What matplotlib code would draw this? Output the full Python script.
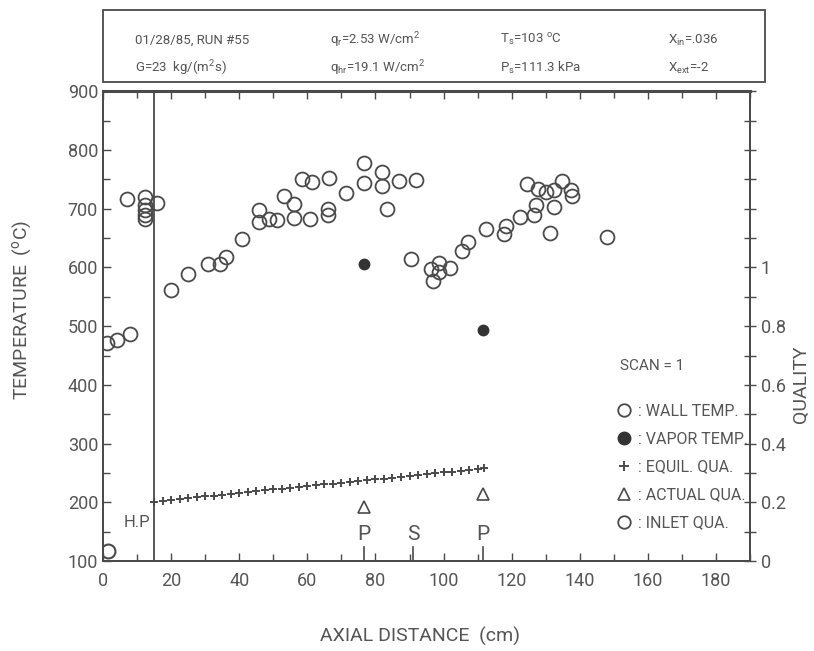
import numpy as np
import matplotlib
matplotlib.use("Agg")
import matplotlib.pyplot as plt
from matplotlib.lines import Line2D
from matplotlib.patches import Rectangle

plt.rcParams['font.family'] = ['Roboto', 'DejaVu Sans']
plt.rcParams['mathtext.fontset'] = 'custom'
plt.rcParams['mathtext.rm'] = 'Roboto'
plt.rcParams['mathtext.it'] = 'Roboto'

# wall temperatures (cm, degC)
wall_x = [1.1, 4.0, 7.9, 7.0, 12.4, 12.4, 12.4, 12.4, 12.4, 15.8, 20.0, 25.1, 30.7, 34.4,
          36.0, 40.8, 45.7, 45.7, 48.6, 51.1, 53.2, 56.0, 56.0, 58.4, 61.4, 60.7, 66.3,
          66.0, 66.0, 71.5, 76.6, 76.6, 81.8, 81.8, 83.4, 86.9, 91.8, 90.5, 96.2, 98.6,
          98.6, 96.9, 101.8, 105.5, 107.2, 112.4, 117.7, 118.2, 122.4, 124.6, 126.6,
          127.1, 127.6, 130.0, 132.4, 134.9, 137.4, 137.6, 131.3, 132.4, 148.0]
wall_t = [471, 477, 486, 717, 719, 706, 697, 689, 682, 709, 561, 588, 605, 605,
          618, 648, 697, 678, 683, 680, 721, 708, 684, 750, 745, 683, 752,
          700, 690, 726, 777, 743, 763, 738, 700, 747, 748, 615, 598, 607,
          592, 577, 599, 628, 643, 666, 656, 670, 686, 742, 689,
          706, 733, 729, 732, 747, 732, 721, 658, 703, 652]

# vapor temperatures
vap_x = [76.5, 111.5]
vap_t = [605, 493]

# equilibrium quality
equil_x = [15.0, 17.5, 20.0, 22.5, 25.0, 27.5, 30.0, 32.5, 35.0, 37.5,
           40.0, 42.5, 45.0, 47.5, 50.0, 52.5, 55.0, 57.5, 60.0, 62.5,
           65.0, 67.5, 70.0, 72.5, 75.0, 77.5, 80.0, 82.5, 85.0, 87.5,
           90.0, 92.5, 95.0, 97.5, 100.0, 102.5, 105.0, 107.5, 110.0, 112.0]
equil_q = [0.203, 0.206, 0.209, 0.212, 0.215, 0.218, 0.221, 0.223, 0.226, 0.229,
           0.232, 0.235, 0.238, 0.241, 0.244, 0.247, 0.250, 0.252, 0.255, 0.258,
           0.261, 0.264, 0.267, 0.270, 0.273, 0.276, 0.279, 0.281, 0.284, 0.287,
           0.290, 0.293, 0.296, 0.299, 0.302, 0.305, 0.308, 0.310, 0.313, 0.316]

# actual quality
act_x = [76.5, 111.5]
act_q = [0.185, 0.23]

# inlet quality
inlet_x = [1.5]
inlet_q = [0.036]

# probe locations
probe_x = [76.5, 91.0, 111.5]
probe_lbl = ['P', 'S', 'P']

hdr_rows = [["01/28/85, RUN #55", "q$_r$=2.53 W/cm$^2$", "T$_s$=103 $^o$C", "X$_{in}$=.036"],
            ["G=23  kg/(m$^2$s)", "q$_{hr}$=19.1 W/cm$^2$", "P$_s$=111.3 kPa", "X$_{ext}$=-2"]]

ink = '#4a4a4a'
txt = '#555555'

fig = plt.figure(figsize=(8.14, 6.51), dpi=100)
ax = fig.add_axes([0.1265, 0.138, 0.795, 0.722])
ax2 = ax.twinx()

ax.set_xlim(0, 190)
ax.set_ylim(100, 900)
ax2.set_ylim(0, 1.6)

ax.plot(wall_x, wall_t, 'o', mfc='none', mec=ink, ms=10, mew=1.3)
ax.plot(vap_x, vap_t, 'o', mfc='#333333', mec='#333333', ms=7.5)
ax2.plot(equil_x, equil_q, '+', color=ink, ms=6, mew=1.4)
ax2.plot(act_x, act_q, '^', mfc='none', mec=ink, ms=8, mew=1.2)
ax2.plot(inlet_x, inlet_q, 'o', mfc='none', mec=ink, ms=10, mew=1.5)

# heated-portion start line
ax.axvline(15, color=ink, lw=1.3)
ax.text(10, 166, 'H.P', ha='center', va='center', fontsize=12, color=txt)

for px, lb in zip(probe_x, probe_lbl):
    ax.plot([px, px], [100, 124], color=ink, lw=1.2)
    ax.text(px, 145, lb, ha='center', va='center', fontsize=15, color=txt)

ax.text(620 / 814, 1 - 366 / 651, 'SCAN = 1', transform=fig.transFigure,
        ha='left', va='center', fontsize=11, color=txt)

handles = [Line2D([], [], ls='none', marker='o', mfc='none', mec=ink, ms=9, mew=1.3),
           Line2D([], [], ls='none', marker='o', mfc='#333333', mec='#333333', ms=9),
           Line2D([], [], ls='none', marker='+', color=ink, ms=7, mew=1.4),
           Line2D([], [], ls='none', marker='^', mfc='none', mec=ink, ms=9, mew=1.2),
           Line2D([], [], ls='none', marker='o', mfc='none', mec=ink, ms=9, mew=1.3)]
labels = [': WALL TEMP.', ': VAPOR TEMP.', ': EQUIL. QUA.', ': ACTUAL QUA.', ': INLET QUA.']
leg = ax2.legend(handles, labels, loc='upper left', bbox_to_anchor=(608 / 814, 1 - 396 / 651),
                 bbox_transform=fig.transFigure, frameon=False, fontsize=11.5,
                 handlelength=1.0, handletextpad=0.4, labelspacing=0.8, borderpad=0)
for t in leg.get_texts():
    t.set_color(txt)

# ticks
ax.set_xticks(np.arange(0, 181, 20))
ax.set_xticks(np.arange(0, 191, 10), minor=True)
ax.set_yticks(np.arange(100, 901, 100))
ax.set_yticks(np.arange(100, 901, 50), minor=True)
ax.tick_params(axis='both', which='both', direction='in', colors=ink, labelcolor=txt,
               labelsize=13, top=True)
ax.tick_params(axis='both', which='major', length=6, width=1)
ax.tick_params(axis='both', which='minor', length=5, width=1)
ax.tick_params(axis='x', pad=8)

q_ticks = np.round(np.arange(0, 1.61, 0.1), 1)
ax2.set_yticks(q_ticks)
ax2.set_yticklabels(['0' if q == 0 else ('1' if q == 1 else (f'{q:.1f}' if (q < 1 and round(q * 10) % 2 == 0) else ''))
                     for q in q_ticks])
ax2.tick_params(axis='y', direction='inout', length=8, width=1, colors=ink,
                labelcolor=txt, labelsize=13)

for a in (ax, ax2):
    for s in a.spines.values():
        s.set_color(ink)
        s.set_linewidth(1.3)
ax.spines['top'].set_linewidth(2.2)

fig.text(0.027, 0.524, 'TEMPERATURE  ($^o$C)', rotation=90, ha='center', va='center',
         fontsize=14, color=txt)
fig.text(0.984, 0.409, 'QUALITY', rotation=90, ha='center', va='center',
         fontsize=14, color=txt)
fig.text(0.516, 0.023, 'AXIAL DISTANCE  (cm)', ha='center', va='center',
         fontsize=14, color=txt)

# header box
fig.patches.append(Rectangle((103 / 814, 1 - 82 / 651), 662 / 814, 72 / 651,
                             transform=fig.transFigure, fill=False, ec=ink, lw=1.3))
col_x = [135, 330, 500, 668]
row_y = [40, 68]
for ry, row in zip(row_y, hdr_rows):
    for cx, s in zip(col_x, row):
        fig.text(cx / 814, 1 - ry / 651, s, ha='left', va='center', fontsize=9.5, color=txt)

fig.savefig('out.png', dpi=100)
